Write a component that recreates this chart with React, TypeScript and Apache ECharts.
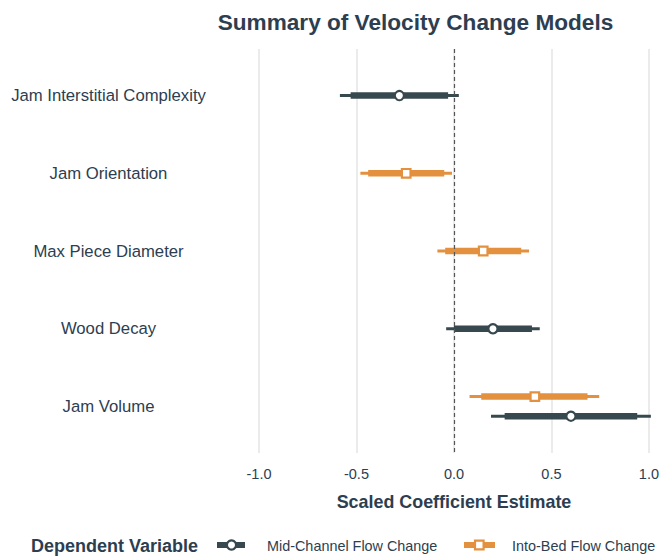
import React, { useEffect, useRef } from "react";
import * as echarts from "echarts";

const categories = [
  "Jam Interstitial Complexity",
  "Jam Orientation",
  "Max Piece Diameter",
  "Wood Decay",
  "Jam Volume",
];

const xTicks = [-1.0, -0.5, 0.0, 0.5, 1.0];

const midCategories = ["Jam Interstitial Complexity", "Wood Decay", "Jam Volume"];
const midEstimate = [-0.28, 0.2, 0.6];
const midInnerLow = [-0.53, 0.0, 0.26];
const midInnerHigh = [-0.03, 0.4, 0.94];
const midOuterLow = [-0.585, -0.04, 0.19];
const midOuterHigh = [0.025, 0.44, 1.01];

const bedCategories = ["Jam Orientation", "Max Piece Diameter", "Jam Volume"];
const bedEstimate = [-0.245, 0.15, 0.415];
const bedInnerLow = [-0.44, -0.045, 0.14];
const bedInnerHigh = [-0.05, 0.345, 0.685];
const bedOuterLow = [-0.48, -0.085, 0.08];
const bedOuterHigh = [-0.01, 0.385, 0.745];

const DARK = "#37494f";
const ORANGE = "#e3903f";
const TEXT = "#2c3e50";
const FONT = "'Liberation Sans', Arial, sans-serif";

const DODGE = 0.126;

function buildRows(
  cats: string[],
  est: number[],
  il: number[],
  ih: number[],
  ol: number[],
  oh: number[],
  otherCats: string[],
  sign: number
) {
  return cats.map((c, i) => {
    const base = categories.indexOf(c) + 1;
    const y = otherCats.includes(c) ? base + sign * DODGE : base;
    return [y, ol[i], il[i], est[i], ih[i], oh[i]];
  });
}

function makeRender(color: string, shape: "circle" | "square") {
  return (params: any, api: any) => {
    const y = api.value(0);
    const ol = api.coord([api.value(1), y]);
    const il = api.coord([api.value(2), y]);
    const e = api.coord([api.value(3), y]);
    const ih = api.coord([api.value(4), y]);
    const oh = api.coord([api.value(5), y]);
    const marker =
      shape === "circle"
        ? {
            type: "circle",
            shape: { cx: e[0], cy: e[1], r: 4.6 },
            style: { fill: "#ffffff", stroke: color, lineWidth: 2.2 },
          }
        : {
            type: "rect",
            shape: { x: e[0] - 4.3, y: e[1] - 4.3, width: 8.6, height: 8.6 },
            style: { fill: "#ffffff", stroke: color, lineWidth: 2.2 },
          };
    return {
      type: "group",
      children: [
        {
          type: "line",
          shape: { x1: ol[0], y1: ol[1], x2: oh[0], y2: oh[1] },
          style: { stroke: color, lineWidth: 3 },
        },
        {
          type: "line",
          shape: { x1: il[0], y1: il[1], x2: ih[0], y2: ih[1] },
          style: { stroke: color, lineWidth: 6.5 },
        },
        marker,
      ],
    };
  };
}

export default function App() {
  const ref = useRef<HTMLDivElement>(null);

  useEffect(() => {
    if (!ref.current) return;
    const chart = echarts.init(ref.current, undefined, { renderer: "svg" });

    const midRows = buildRows(
      midCategories,
      midEstimate,
      midInnerLow,
      midInnerHigh,
      midOuterLow,
      midOuterHigh,
      bedCategories,
      1
    );
    const bedRows = buildRows(
      bedCategories,
      bedEstimate,
      bedInnerLow,
      bedInnerHigh,
      bedOuterLow,
      bedOuterHigh,
      midCategories,
      -1
    );

    chart.setOption({
      animation: false,
      backgroundColor: "#ffffff",
      textStyle: { fontFamily: FONT },
      grid: { left: 259, right: 13, top: 49, bottom: 103 },
      xAxis: {
        type: "value",
        min: -1,
        max: 1,
        interval: 0.5,
        axisLine: { show: false },
        axisTick: { show: false },
        splitLine: { show: true, lineStyle: { color: "#e6e6e6", width: 1.6 } },
        axisLabel: {
          color: TEXT,
          fontSize: 14.5,
          fontFamily: FONT,
          margin: 13,
          formatter: (v: number) => {
            const t = xTicks.find((x) => Math.abs(x - v) < 1e-9);
            return t === undefined ? "" : t.toFixed(1);
          },
        },
        name: "Scaled Coefficient Estimate",
        nameLocation: "middle",
        nameGap: 40,
        nameTextStyle: {
          color: TEXT,
          fontSize: 17.9,
          fontWeight: "bold",
          fontFamily: FONT,
        },
      },
      yAxis: {
        type: "value",
        min: 0.4,
        max: 5.6,
        inverse: true,
        axisLine: { show: false },
        axisTick: { show: false },
        splitLine: { show: false },
        axisLabel: {
          customValues: [1, 2, 3, 4, 5],
          color: TEXT,
          fontSize: 16.7,
          fontFamily: FONT,
          align: "center",
          margin: 150.5,
          padding: [3, 0, 0, 0],
          formatter: (v: number) => categories[Math.round(v) - 1] ?? "",
        },
      },
      graphic: [
        {
          type: "text",
          x: 415.5,
          y: 22,
          style: {
            text: "Summary of Velocity Change Models",
            fill: TEXT,
            font: `bold 22.6px ${FONT}`,
            textAlign: "center",
            textVerticalAlign: "middle",
          },
        },
        {
          type: "text",
          x: 31,
          y: 546,
          style: {
            text: "Dependent Variable",
            fill: TEXT,
            font: `bold 18px ${FONT}`,
            textAlign: "left",
            textVerticalAlign: "middle",
          },
        },
        {
          type: "rect",
          shape: { x: 217, y: 542, width: 28, height: 6 },
          style: { fill: DARK },
        },
        {
          type: "circle",
          shape: { cx: 231.5, cy: 545, r: 4.6 },
          style: { fill: "#ffffff", stroke: DARK, lineWidth: 2.2 },
        },
        {
          type: "text",
          x: 267,
          y: 546,
          style: {
            text: "Mid-Channel Flow Change",
            fill: TEXT,
            font: `14.4px ${FONT}`,
            textAlign: "left",
            textVerticalAlign: "middle",
          },
        },
        {
          type: "rect",
          shape: { x: 464, y: 542, width: 31, height: 6 },
          style: { fill: ORANGE },
        },
        {
          type: "rect",
          shape: { x: 475, y: 540.7, width: 8.6, height: 8.6 },
          style: { fill: "#ffffff", stroke: ORANGE, lineWidth: 2.2 },
        },
        {
          type: "text",
          x: 512,
          y: 546,
          style: {
            text: "Into-Bed Flow Change",
            fill: TEXT,
            font: `14.4px ${FONT}`,
            textAlign: "left",
            textVerticalAlign: "middle",
          },
        },
      ],
      series: [
        {
          type: "custom",
          name: "Mid-Channel Flow Change",
          renderItem: makeRender(DARK, "circle"),
          encode: { x: [1, 2, 3, 4, 5], y: 0 },
          data: midRows,
          z: 3,
          markLine: {
            silent: true,
            symbol: "none",
            label: { show: false },
            lineStyle: { color: "#555555", type: [4, 3], width: 1.2 },
            data: [{ xAxis: 0 }],
          },
        },
        {
          type: "custom",
          name: "Into-Bed Flow Change",
          renderItem: makeRender(ORANGE, "square"),
          encode: { x: [1, 2, 3, 4, 5], y: 0 },
          data: bedRows,
          z: 3,
        },
      ],
    });

    return () => chart.dispose();
  }, []);

  return (
    <div
      ref={ref}
      style={{ position: "fixed", left: 0, top: 0, width: 662, height: 556 }}
    />
  );
}
